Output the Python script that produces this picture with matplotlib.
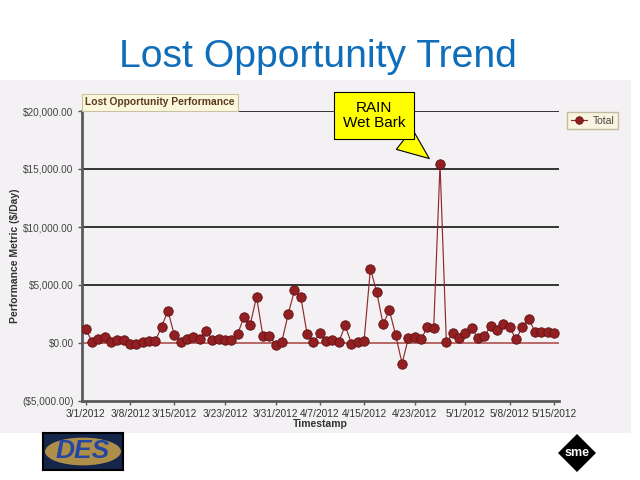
import matplotlib.pyplot as plt
import matplotlib.patches as mpatches
import numpy as np
import pandas as pd

plt.rcParams['font.family'] = ['Liberation Sans', 'DejaVu Sans']

# daily timestamps (one day missing between 4/7 and 4/15 in the source)
dates = pd.date_range('2012-03-01', '2012-05-15').drop(pd.Timestamp('2012-04-11'))
total = [1200, 100, 350, 520, 110, 230, 230, -60, -60, 110,
         200, 200, 1390, 2800, 690, 110, 350, 520, 350, 1070,
         230, 350, 230, 290, 750, 2220, 1560, 3990, 630, 630,
         -150, 110, 2480, 4540, 3960, 750, 60, 830, 140, 260,
         50, 1530, -60, 110, 200, 6420, 4370, 1620, 2810, 660,
         -1770, 430, 520, 310, 1390, 1330, 15400, 50, 830, 400,
         830, 1300, 400, 570, 1470, 1090, 1650, 1390, 310, 1390,
         2110, 980, 980, 980, 830]
tick_dates = ['2012-03-01', '2012-03-08', '2012-03-15', '2012-03-23', '2012-03-31', '2012-04-07',
              '2012-04-15', '2012-04-23', '2012-05-01', '2012-05-08', '2012-05-15']
yticks = [-5000, 0, 5000, 10000, 15000, 20000]

def money(v):
    s = '${:,.2f}'.format(abs(v))
    return '(' + s + ')' if v < 0 else s

panel = '#F3F1F3'
fig = plt.figure(figsize=(6.4, 4.8), dpi=100)
fig.patch.set_facecolor('white')

# gray panel behind the chart
fig.patches.append(mpatches.Rectangle((0, 1 - 433/480), 631/640, (433 - 80)/480,
                                      transform=fig.transFigure, facecolor=panel, edgecolor='none', zorder=-10))

fig.text(0.497, 1 - 67/480, 'Lost Opportunity Trend', ha='center', va='baseline',
         fontsize=28.2, color='#0F6DBA')

ax = fig.add_axes([82/640, 1 - 401/480, 477/640, 290/480])
ax.set_facecolor(panel)
x = np.arange(len(dates))
for g in [5000, 10000, 15000, 20000]:
    ax.axhline(g, color='black', lw=1.1, zorder=1)
ax.axhline(0, color='#A8433F', lw=1.1, zorder=1)
ax.plot(x, total, color='#8E2A2A', lw=0.85, marker='o', ms=6.8,
        mfc='#931F22', mec='#5E1214', mew=0.6, zorder=3, label='Total')

ax.set_xlim(-0.58, 74.8)
ax.set_ylim(-5000, 20000)
ax.set_yticks(yticks)
ax.set_yticklabels([money(v) for v in yticks], fontsize=7.2, color='#444444')
pos = [list(dates).index(pd.Timestamp(d)) for d in tick_dates]
ax.set_xticks(pos)
ax.set_xticklabels([pd.Timestamp(d).strftime('%-m/%-d/%Y') for d in tick_dates], fontsize=7.3, color='#333333')
ax.tick_params(axis='both', length=3, width=1, color='#555555', pad=3)
for s in ['top', 'right']:
    ax.spines[s].set_visible(False)
for s in ['left', 'bottom']:
    ax.spines[s].set_color('#5A5A5A')
    ax.spines[s].set_linewidth(2)
ax.set_xlabel('Timestamp', fontsize=7.5, fontweight='bold', color='#333333', labelpad=0)

fig.text(15/640, 1 - 256/480, 'Performance Metric ($/Day)', rotation=90, ha='center', va='center',
         fontsize=7.5, fontweight='bold', color='#333333')

ax.text(0.007, 1.03, 'Lost Opportunity Performance', transform=ax.transAxes, fontsize=7.4,
        fontweight='bold', color='#5B3A1E', va='center', ha='left',
        bbox=dict(boxstyle='square,pad=0.35', facecolor='#FBF7DC', edgecolor='#C9C2A2', lw=0.8))

ax.annotate('RAIN\nWet Bark', xy=(54.3, 15900), xycoords='data',
            xytext=((374 - 82)/477, (401 - 115.5)/290), textcoords='axes fraction',
            ha='center', va='center', fontsize=11, color='black', linespacing=1.15,
            bbox=dict(boxstyle='square,pad=0.55', facecolor='#FFFF00', edgecolor='black', lw=0.8),
            arrowprops=dict(arrowstyle='wedge,tail_width=1.7', facecolor='#FFFF00', edgecolor='black',
                            lw=0.8, shrinkA=0, shrinkB=0), zorder=5)

leg = ax.legend(loc='upper left', bbox_to_anchor=(567/640, 1 - 112/480), bbox_transform=fig.transFigure,
                fontsize=7.5, frameon=True, fancybox=False, handlelength=1.6, handletextpad=0.5,
                borderpad=0.35, borderaxespad=0, markerscale=0.8)
leg.get_frame().set_facecolor('#FBF7DC')
leg.get_frame().set_edgecolor('#B5AD92')
for t in leg.get_texts():
    t.set_color('#444444')

# DES logo
lax = fig.add_axes([43/640, 1 - 470/480, 80/640, 37/480])
lax.set_xlim(0, 1)
lax.set_ylim(0, 1)
lax.set_facecolor('#15264A')
lax.add_patch(mpatches.Ellipse((0.5, 0.5), 0.95, 0.75, facecolor='#C9A24A', edgecolor='none', alpha=0.85))
lax.text(0.5, 0.5, 'DES', ha='center', va='center', fontsize=19, fontweight='bold',
         style='italic', color='#2546A2')
lax.set_xticks([])
lax.set_yticks([])
for s in lax.spines.values():
    s.set_color('black')
    s.set_linewidth(1.5)

# SME logo
sax = fig.add_axes([558/640, 1 - 472/480, 38/640, 38/480])
sax.set_xlim(0, 1)
sax.set_ylim(0, 1)
sax.set_aspect('equal')
sax.axis('off')
sax.add_patch(mpatches.RegularPolygon((0.5, 0.5), 4, radius=0.5, orientation=0, facecolor='black'))
sax.text(0.5, 0.5, 'sme', ha='center', va='center', fontsize=9, fontweight='bold', color='white')

plt.savefig('out.png', dpi=100, facecolor=fig.get_facecolor())
